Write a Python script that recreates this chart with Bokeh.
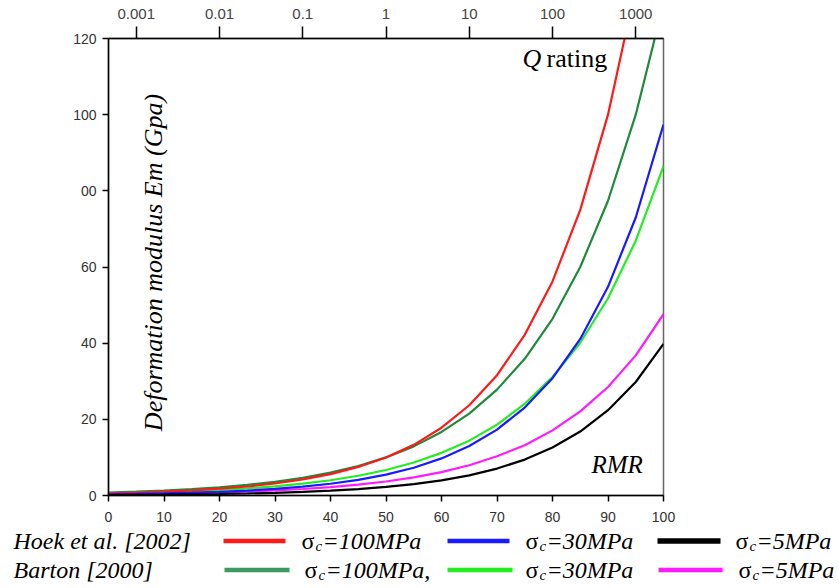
from bokeh.plotting import figure
from bokeh.models import (Range1d, LogScale, LogAxis, FixedTicker, CustomJSTickFormatter, Label)
from bokeh.core.properties import value
from bokeh.embed import file_html
from bokeh.resources import INLINE

# ---------------- data ----------------
rmr = [0, 5, 10, 15, 20, 25, 30, 35, 40, 45, 50, 55, 60, 65, 70, 75, 80, 85, 90, 95, 100]

hoek_100 = [0.56, 0.75, 1.00, 1.33, 1.78, 2.37, 3.16, 4.22, 5.62, 7.50, 10.0, 13.3, 17.8,
            23.7, 31.6, 42.2, 56.2, 75.0, 100.0, 133.4, 177.8]
hoek_30 = [0.31, 0.41, 0.55, 0.73, 0.97, 1.30, 1.73, 2.31, 3.08, 4.11, 5.48, 7.30, 9.74,
           13.0, 17.3, 23.1, 30.8, 41.1, 54.8, 73.0, 97.4]
hoek_5 = [0.13, 0.17, 0.22, 0.30, 0.40, 0.53, 0.71, 0.94, 1.26, 1.68, 2.24, 2.98, 3.98,
          5.30, 7.07, 9.43, 12.6, 16.8, 22.4, 29.8, 39.8]
barton_100 = [0.77, 1.00, 1.29, 1.67, 2.15, 2.78, 3.59, 4.64, 6.00, 7.74, 10.0, 12.9, 16.7,
              21.5, 27.8, 35.9, 46.4, 60.0, 77.4, 100.0, 129.2]
barton_30 = [0.52, 0.67, 0.87, 1.12, 1.44, 1.86, 2.41, 3.11, 4.01, 5.18, 6.69, 8.65, 11.2,
             14.4, 18.6, 24.1, 31.1, 40.1, 51.8, 66.9, 86.5]
barton_5 = [0.29, 0.37, 0.48, 0.61, 0.79, 1.03, 1.32, 1.71, 2.21, 2.85, 3.68, 4.76, 6.15,
            7.94, 10.3, 13.2, 17.1, 22.1, 28.5, 36.8, 47.6]

x_ticks = [0, 10, 20, 30, 40, 50, 60, 70, 80, 90, 100]
y_ticks = [0, 20, 40, 60, 80, 100, 120]
y_tick_labels = {0: "0", 20: "20", 40: "40", 60: "60", 80: "00", 100: "100", 120: "120"}
q_ticks = [0.001, 0.01, 0.1, 1, 10, 100, 1000]
q_range = (10 ** (-50 / 15), 10 ** (50 / 15))   # RMR 0..100 -> Q (RMR = 15 log Q + 50)

legend_rows = ["Hoek et al. [2002]", "Barton [2000]"]
legend_items = [["=100MPa", "=30MPa", "=5MPa"], ["=100MPa,", "=30MPa", "=5MPa"]]

# ---------------- layout constants ----------------
W = 839
H_MAIN, H_LEG = 528, 60
FL, FT, FW, FH = 108, 38, 555, 457   # frame left/top/width/height (px)
BASE_FIX = 9                          # renderer draws 'alphabetic' text a bit low


def dx(px):
    return (px - FL) / FW * 100.0


def dy(py):
    return (FT + FH - py) / FH * 120.0


p = figure(width=W, height=H_MAIN, x_range=Range1d(0, 100), y_range=Range1d(0, 120),
           output_backend="svg", toolbar_location=None,
           min_border_left=FL, min_border_right=W - FL - FW,
           min_border_top=FT, min_border_bottom=H_MAIN - FT - FH)
p.xgrid.visible = False
p.ygrid.visible = False
p.background_fill_color = "white"
p.border_fill_color = "white"
p.outline_line_color = "#666666"
p.outline_line_width = 1.5

TICK_FONT = "Liberation Sans"
for ax in (p.xaxis[0], p.yaxis[0]):
    ax.axis_line_color = "black"
    ax.axis_line_width = 1.5
    ax.major_tick_line_color = "black"
    ax.major_tick_line_width = 1.5
    ax.major_tick_in = 0
    ax.major_tick_out = 6
    ax.minor_tick_line_color = None
    ax.major_label_text_font = TICK_FONT
    ax.major_label_text_font_size = "14px"
    ax.major_label_text_color = "#333333"

p.xaxis[0].ticker = FixedTicker(ticks=x_ticks)
p.xaxis[0].major_label_standoff = 10
p.yaxis[0].ticker = FixedTicker(ticks=y_ticks)
p.yaxis[0].major_label_overrides = y_tick_labels
p.yaxis[0].major_label_standoff = 6

# top Q axis
p.extra_x_ranges = {"Q": Range1d(q_range[0], q_range[1])}
p.extra_x_scales = {"Q": LogScale()}
qax = LogAxis(x_range_name="Q", ticker=FixedTicker(ticks=q_ticks),
              formatter=CustomJSTickFormatter(code="return tick.toString();"))
qax.axis_line_color = "black"
qax.axis_line_width = 1.5
qax.major_tick_line_color = "black"
qax.major_tick_line_width = 1.5
qax.major_tick_in = 0
qax.major_tick_out = 12
qax.minor_tick_line_color = None
qax.major_label_text_font = TICK_FONT
qax.major_label_text_font_size = "15px"
qax.major_label_text_color = "#444444"
qax.major_label_standoff = 8
p.add_layout(qax, "above")

# ---------------- curves ----------------
COL = {"h100": "#ff1a1a", "h30": "#1a1aff", "h5": "#000000",
       "b100": "#1f8a3a", "b30": "#22ee22", "b5": "#ff1aff"}
LW = 2.2
p.line(rmr, barton_100, line_color=COL["b100"], line_width=LW)
p.line(rmr, barton_30, line_color=COL["b30"], line_width=LW)
p.line(rmr, barton_5, line_color=COL["b5"], line_width=LW)
p.line(rmr, hoek_100, line_color=COL["h100"], line_width=LW)
p.line(rmr, hoek_30, line_color=COL["h30"], line_width=LW)
p.line(rmr, hoek_5, line_color=COL["h5"], line_width=LW)

SERIF = "Liberation Serif"


def lab(text, px, py, size="25px", style="italic", angle=0, align="left"):
    p.add_layout(Label(x=dx(px), y=dy(py), text=text, text_font=SERIF,
                       text_font_size=size, text_font_style=style, angle=angle,
                       text_align=align, text_baseline="alphabetic", text_color="black"))


lab("Q", 522, 67 - BASE_FIX, size="26px", style="italic")
lab("rating", 546, 67 - BASE_FIX, size="26px", style="normal")
lab("RMR", 591, 473 - BASE_FIX, size="25px", style="italic")
lab("Deformation modulus Em (Gpa)", 153, 262, size="26px", style="italic",
    angle=1.5707963, align="center")

# ---------------- legend (separate strip below, page-pixel coordinates) ----------------
leg = figure(width=W, height=H_LEG, x_range=Range1d(0, W),
             y_range=Range1d(H_MAIN + H_LEG, H_MAIN),
             output_backend="svg", toolbar_location=None,
             x_axis_type=None, y_axis_type=None, min_border=0)
leg.xgrid.visible = False
leg.ygrid.visible = False
leg.outline_line_color = None
leg.background_fill_color = "white"
leg.border_fill_color = "white"

row_base = [549 - BASE_FIX, 578 - BASE_FIX]
row_line_y = [540.5, 569.5]
sigma_x = [[301, 525, 735], [304, 525, 738]]
sw_x = [[(223, 285), (447, 509), (657, 720)], [(224, 289), (447, 512), (658, 722)]]
sw_col = [[COL["h100"], COL["h30"], COL["h5"]], ["#3a9a62", COL["b30"], COL["b5"]]]
sw_w = [[4.5, 4.5, 5.5], [4.5, 4.5, 4.5]]

for r in range(2):
    leg.text(x=[13], y=[row_base[r]], text=[legend_rows[r]], text_font=value(SERIF),
             text_font_size="24px", text_font_style="italic", text_baseline="alphabetic",
             text_color="black")
    for i in range(3):
        x0, x1 = sw_x[r][i]
        leg.segment(x0=[x0], y0=[row_line_y[r]], x1=[x1], y1=[row_line_y[r]],
                    line_color=sw_col[r][i], line_width=sw_w[r][i])
        sx = sigma_x[r][i]
        leg.text(x=[sx], y=[row_base[r]], text=["\u03c3"], text_font=value(SERIF),
                 text_font_size="24px", text_font_style="normal", text_baseline="alphabetic",
                 text_color="black")
        leg.text(x=[sx + 14], y=[row_base[r] + 5], text=["c"], text_font=value(SERIF),
                 text_font_size="15px", text_font_style="italic", text_baseline="alphabetic",
                 text_color="black")
        leg.text(x=[sx + 21], y=[row_base[r]], text=[legend_items[r][i]], text_font=value(SERIF),
                 text_font_size="24px", text_font_style="italic", text_baseline="alphabetic",
                 text_color="black")

open("out.html", "w").write(file_html([p, leg], INLINE))
